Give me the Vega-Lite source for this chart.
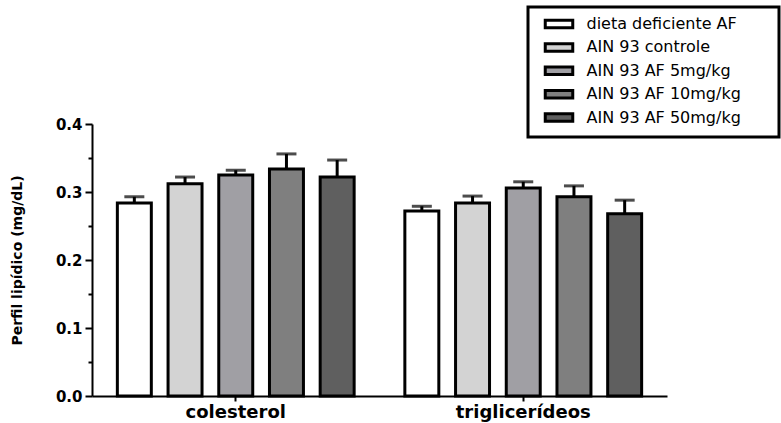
{
  "$schema": "https://vega.github.io/schema/vega-lite/v6.json",
  "width": 575,
  "height": 272,
  "autosize": "none",
  "padding": {"left": 92, "top": 124, "right": 114, "bottom": 27},
  "background": "white",
  "config": {"view": {"stroke": null}, "font": "DejaVu Sans"},
  "data": {"values": [
    {"grupo": "colesterol", "dieta": "dieta deficiente AF", "media": 0.284, "sup": 0.293},
    {"grupo": "colesterol", "dieta": "AIN 93 controle", "media": 0.312, "sup": 0.322},
    {"grupo": "colesterol", "dieta": "AIN 93 AF 5mg/kg", "media": 0.325, "sup": 0.332},
    {"grupo": "colesterol", "dieta": "AIN 93 AF 10mg/kg", "media": 0.334, "sup": 0.356},
    {"grupo": "colesterol", "dieta": "AIN 93 AF 50mg/kg", "media": 0.322, "sup": 0.347},
    {"grupo": "triglicerídeos", "dieta": "dieta deficiente AF", "media": 0.272, "sup": 0.279},
    {"grupo": "triglicerídeos", "dieta": "AIN 93 controle", "media": 0.284, "sup": 0.294},
    {"grupo": "triglicerídeos", "dieta": "AIN 93 AF 5mg/kg", "media": 0.306, "sup": 0.315},
    {"grupo": "triglicerídeos", "dieta": "AIN 93 AF 10mg/kg", "media": 0.293, "sup": 0.309},
    {"grupo": "triglicerídeos", "dieta": "AIN 93 AF 50mg/kg", "media": 0.268, "sup": 0.288}
  ]},
  "encoding": {
    "x": {"field": "grupo", "type": "nominal", "sort": ["colesterol", "triglicerídeos"],
      "scale": {"paddingInner": 0, "paddingOuter": 0},
      "axis": {"title": null, "labelAngle": 0, "labelFont": "DejaVu Sans", "labelFontWeight": "bold", "labelFontSize": 18, "labelColor": "black", "labelPadding": 2, "tickSize": 5, "tickWidth": 2, "tickColor": "black", "domainColor": "black", "domainWidth": 2}},
    "xOffset": {"field": "dieta", "type": "nominal",
      "sort": ["dieta deficiente AF", "AIN 93 controle", "AIN 93 AF 5mg/kg", "AIN 93 AF 10mg/kg", "AIN 93 AF 50mg/kg"],
      "scale": {"paddingInner": 0.33, "paddingOuter": 0.5}}
  },
  "layer": [
    {
      "mark": {"type": "bar", "stroke": "black", "strokeWidth": 3},
      "encoding": {
        "y": {"field": "media", "type": "quantitative", "scale": {"domain": [0, 0.4], "nice": false},
          "axis": {"title": "Perfil lipídico (mg/dL)", "tickCount": 8,
            "labelExpr": "round(datum.value*100) % 10 == 0 ? format(datum.value, '.1f') : ''",
            "tickSize": {"condition": {"test": "round(datum.value*100) % 10 != 0", "value": 4}, "value": 7},
            "tickWidth": 2, "tickColor": "black", "domainColor": "black", "domainWidth": 2, "grid": false,
            "labelFont": "DejaVu Sans", "labelFontWeight": "bold", "labelFontSize": 15, "labelColor": "black", "labelPadding": 3,
            "titleFont": "DejaVu Sans", "titleFontWeight": "bold", "titleFontSize": 14, "titleColor": "black", "titleX": -68}},
        "fill": {"field": "dieta", "type": "nominal",
          "scale": {"domain": ["dieta deficiente AF", "AIN 93 controle", "AIN 93 AF 5mg/kg", "AIN 93 AF 10mg/kg", "AIN 93 AF 50mg/kg"],
            "range": ["#ffffff", "#d3d3d3", "#a09fa4", "#7f7f7f", "#5f5f5f"]},
          "legend": {"title": null, "orient": "none", "legendX": 436, "legendY": -117,
            "symbolType": "M-2.75,-0.75H2.75V0.75H-2.75Z", "symbolSize": 100, "symbolStrokeColor": "black", "symbolStrokeWidth": 3,
            "symbolOffset": 14,
            "labelFont": "DejaVu Sans", "labelFontSize": 16, "labelColor": "black", "labelOffset": 19.5, "labelLimit": 400,
            "labelExpr": "datum.label + '\u2800\u00a0\u2800'",
            "strokeColor": "black", "padding": 9, "rowPadding": 3.4,
            "encode": {"legend": {"update": {"strokeWidth": {"value": 3}}}}}}
      }
    },
    {
      "mark": {"type": "rule", "strokeWidth": 3, "color": "black"},
      "encoding": {
        "y": {"field": "media", "type": "quantitative"},
        "y2": {"field": "sup"}
      }
    },
    {
      "mark": {"type": "tick", "thickness": 3, "size": 20, "color": "black"},
      "encoding": {
        "y": {"field": "sup", "type": "quantitative"}
      }
    }
  ]
}
